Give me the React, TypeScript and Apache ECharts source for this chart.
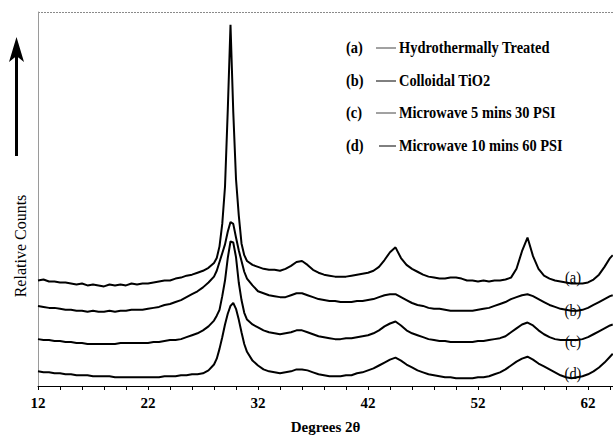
import React, { useEffect, useRef } from "react";
import * as echarts from "echarts";

// x grid (degrees 2θ)
const X = [
  12, 12.5, 13, 13.5, 14, 14.5, 15, 15.5, 16, 16.5, 17, 17.5, 18, 18.5, 19, 19.5,
  20, 20.5, 21, 21.5, 22, 22.5, 23, 23.5, 24, 24.5, 25, 25.5, 26, 26.5, 27, 27.5,
  28, 28.25, 28.5, 28.75, 29, 29.25, 29.5, 29.75, 30, 30.25, 30.5, 30.75, 31,
  31.5, 32, 32.5, 33, 33.5, 34, 34.5, 35, 35.5, 36, 36.5, 37, 37.5, 38, 38.5, 39, 39.5,
  40, 40.5, 41, 41.5, 42, 42.5, 43, 43.5, 44, 44.5, 45, 45.5, 46, 46.5, 47, 47.5,
  48, 48.5, 49, 49.5, 50, 50.5, 51, 51.5, 52, 52.5, 53, 53.5, 54, 54.5, 55, 55.5,
  56, 56.5, 57, 57.5, 58, 58.5, 59, 59.5, 60, 60.5, 61, 61.5, 62, 62.5, 63, 63.5, 64,
  64.25,
];

// relative counts (arbitrary units, offset traces)
const SERIES_A = [
  108, 109, 107, 107, 106, 106, 105, 104, 105, 103, 104, 103, 102, 104, 103, 104,
  103, 105, 104, 105, 105, 106, 107, 108, 108, 110, 111, 113, 114, 116, 118, 121,
  126, 131, 143, 166, 204, 282, 370, 281, 212, 175, 146, 134, 128,
  124, 122, 120, 119, 119, 118, 120, 123, 127, 128, 124, 119, 116, 114, 113, 112, 112,
  112, 113, 114, 115, 116, 118, 122, 129, 137, 142, 131, 124, 120, 117, 114, 112,
  111, 110, 110, 111, 111, 110, 108, 108, 107, 108, 107, 108, 108, 109, 111, 120,
  138, 152, 133, 120, 113, 110, 108, 107, 106, 105, 105, 105, 106, 109, 114, 122, 131,
  134,
];
const SERIES_B = [
  82, 81, 80, 80, 79, 78, 78, 77, 77, 76, 77, 76, 76, 77, 76, 77,
  77, 78, 78, 78, 79, 80, 81, 83, 84, 86, 88, 91, 94, 97, 101, 106,
  112, 118, 127, 136, 145, 158, 168, 166, 152, 139, 128, 117, 110,
  103, 97, 95, 93, 92, 91, 91, 93, 95, 95, 93, 91, 89, 88, 87, 87, 86,
  86, 86, 87, 87, 88, 89, 91, 93, 94, 94, 91, 88, 85, 83, 82, 80,
  79, 79, 78, 77, 77, 77, 77, 77, 78, 79, 80, 82, 84, 86, 89, 91,
  93, 94, 92, 89, 86, 83, 81, 79, 78, 77, 77, 78, 80, 83, 86, 89, 92,
  93,
];
const SERIES_C = [
  48, 47, 47, 46, 46, 45, 45, 44, 44, 43, 43, 43, 43, 43, 43, 44,
  44, 44, 44, 44, 44, 45, 45, 46, 47, 47, 48, 50, 52, 54, 57, 61,
  67, 72, 78, 92, 108, 131, 148, 147, 132, 106, 88, 75, 68,
  63, 60, 57, 55, 54, 53, 54, 55, 57, 57, 55, 53, 51, 50, 49, 48, 48,
  49, 49, 50, 51, 52, 54, 57, 61, 64, 66, 62, 57, 54, 52, 50, 48,
  47, 46, 46, 45, 45, 45, 45, 45, 46, 46, 47, 48, 49, 51, 55, 59,
  63, 65, 62, 57, 53, 50, 48, 47, 47, 47, 47, 48, 50, 53, 56, 59, 62,
  63,
];
const SERIES_D = [
  15, 14, 14, 13, 13, 12, 12, 11, 11, 11, 10, 10, 10, 10, 9, 9,
  9, 9, 9, 9, 9, 9, 9, 10, 10, 10, 11, 11, 12, 12, 13, 16,
  22, 28, 38, 50, 63, 74, 82, 85, 79, 68, 55, 43, 35,
  26, 21, 17, 15, 14, 13, 14, 15, 17, 17, 16, 14, 12, 11, 10, 10, 10,
  11, 11, 13, 14, 16, 18, 21, 24, 27, 29, 26, 22, 19, 16, 14, 12,
  11, 10, 9, 9, 8, 8, 8, 8, 9, 9, 10, 12, 14, 17, 21, 25,
  28, 30, 27, 23, 20, 17, 14, 11, 9, 8, 9, 10, 12, 15, 19, 24, 30,
  33,
];

const X_LABELS = [12, 22, 32, 42, 52, 62];
const TAGS = ["(a)", "(b)", "(c)", "(d)"];
const NAMES = [
  "Hydrothermally Treated",
  "Colloidal TiO2",
  "Microwave 5 mins 30 PSI",
  "Microwave 10 mins 60 PSI",
];

const FONT = "Liberation Serif";

function pairs(ys: number[]) {
  const n = Math.min(X.length, ys.length);
  const out: number[][] = [];
  for (let i = 0; i < n; i++) out.push([X[i], ys[i]]);
  return out;
}

export default function App() {
  const ref = useRef<HTMLDivElement>(null);
  useEffect(() => {
    if (!ref.current) return;
    const chart = echarts.init(ref.current, null, { renderer: "svg" });
    const allSeries = [SERIES_A, SERIES_B, SERIES_C, SERIES_D];
    const legendRows = [47, 80, 112, 145];
    const legendLineStart = [376, 376, 376, 379];
    const curveLabelY = [277, 310, 341, 373];

    const graphic: any[] = [
      {
        type: "line",
        shape: { x1: 38, y1: 12.5, x2: 613, y2: 12.5 },
        style: { stroke: "#8a8a8a", lineWidth: 1, lineDash: [2, 1] },
        silent: true,
      },
      {
        type: "line",
        shape: { x1: 16.5, y1: 156, x2: 16.5, y2: 52 },
        style: { stroke: "#000", lineWidth: 3 },
      },
      {
        type: "polygon",
        shape: { points: [[16.5, 37], [9, 62], [16.5, 56], [24, 62]] },
        style: { fill: "#000" },
      },
      {
        type: "text",
        x: 20,
        y: 246,
        rotation: Math.PI / 2,
        style: {
          text: "Relative Counts",
          fontFamily: FONT,
          fontSize: 16,
          fill: "#000",
          align: "center",
          verticalAlign: "middle",
        },
      },
    ];
    TAGS.forEach((t, i) => {
      graphic.push({
        type: "text",
        x: 346,
        y: legendRows[i],
        scaleX: 0.9,
        style: {
          text: t,
          fontFamily: FONT,
          fontSize: 16,
          fontWeight: "bold",
          fill: "#000",
          align: "left",
          verticalAlign: "middle",
        },
      });
      graphic.push({
        type: "line",
        shape: { x1: legendLineStart[i], y1: legendRows[i] + 1, x2: 396, y2: legendRows[i] + 1 },
        style: { stroke: i % 2 === 0 ? "#444" : "#000", lineWidth: 1 },
      });
      graphic.push({
        type: "text",
        x: 399,
        y: legendRows[i],
        scaleX: 0.9,
        style: {
          text: NAMES[i],
          fontFamily: FONT,
          fontSize: 16,
          fontWeight: "bold",
          fill: "#000",
          align: "left",
          verticalAlign: "middle",
        },
      });
      graphic.push({
        type: "text",
        x: 573,
        y: curveLabelY[i],
        scaleX: 0.9,
        style: {
          text: t,
          fontFamily: FONT,
          fontSize: 16,
          fill: "#000",
          align: "center",
          verticalAlign: "middle",
        },
      });
    });

    chart.setOption({
      animation: false,
      backgroundColor: "#ffffff",
      grid: { left: 38, right: 0, top: 12, bottom: 44, containLabel: false },
      xAxis: {
        type: "value",
        min: 12,
        max: 64.27,
        interval: 2,
        name: "Degrees 2θ",
        nameLocation: "middle",
        nameGap: 33,
        nameTextStyle: { fontFamily: FONT, fontSize: 15, fontWeight: "bold", color: "#000" },
        axisLine: { show: true, lineStyle: { color: "#000", width: 1 } },
        axisTick: { show: true, inside: false, length: 4, lineStyle: { color: "#000" } },
        axisLabel: {
          interval: 0,
          hideOverlap: false,
          showMaxLabel: false,
          margin: 9,
          fontFamily: FONT,
          fontSize: 15,
          fontWeight: "bold",
          color: "#000",
          formatter: (v: number) => {
            const r = Math.round(v * 100) / 100;
            return X_LABELS.indexOf(r) >= 0 ? String(r) : "";
          },
        },
        splitLine: { show: false },
      },
      yAxis: {
        type: "value",
        min: 0,
        max: 383,
        axisLine: { show: true, lineStyle: { color: "#9a9a9a", width: 1 } },
        axisTick: { show: false },
        axisLabel: { show: false },
        splitLine: { show: false },
      },
      series: allSeries.map((ys, i) => ({
        type: "line",
        name: NAMES[i],
        data: pairs(ys),
        showSymbol: false,
        symbol: "none",
        lineStyle: { color: "#000", width: 2 },
        silent: true,
      })),
      graphic,
    });
    return () => chart.dispose();
  }, []);
  return (
    <div
      ref={ref}
      style={{ position: "absolute", left: 0, top: 0, width: 613, height: 439 }}
    />
  );
}
